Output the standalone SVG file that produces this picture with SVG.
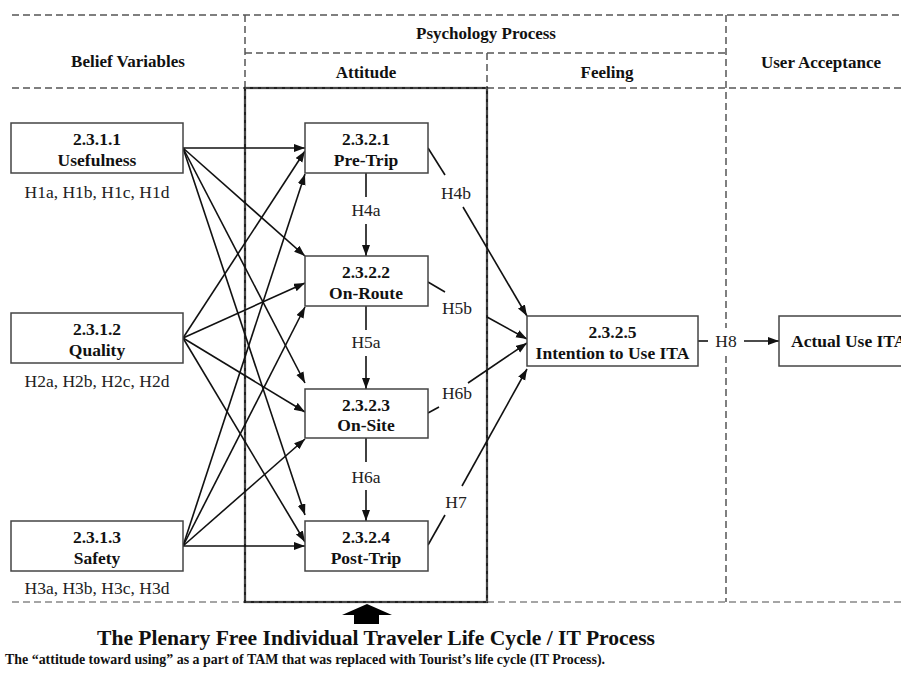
<svg xmlns="http://www.w3.org/2000/svg" width="901" height="676" viewBox="0 0 901 676">
<style>
.dash{stroke:#555;stroke-width:1.5;stroke-dasharray:7 4;fill:none}
.dashl{stroke:#888;stroke-width:1.5;stroke-dasharray:7 4;fill:none}
.box{fill:#fff;stroke:#444;stroke-width:1.5}
.hd{font-family:"Liberation Serif",serif;font-weight:bold;font-size:17px;fill:#111;text-anchor:middle}
.bt{font-family:"Liberation Serif",serif;font-weight:bold;font-size:17.5px;fill:#111;text-anchor:middle}
.lb{font-family:"Liberation Serif",serif;font-size:17.5px;fill:#222;text-anchor:middle}
.ln{stroke:#111;stroke-width:1.6;fill:none}
.ar{stroke:#111;stroke-width:1.6;fill:none;marker-end:url(#ah)}
</style>
<defs>
<marker id="ah" markerUnits="userSpaceOnUse" markerWidth="12" markerHeight="10" refX="11" refY="4" orient="auto">
<path d="M0,0 L11,4 L0,8 Z" fill="#111"/>
</marker>
</defs>
<rect width="901" height="676" fill="#fff"/>
<g id="grid">
<line class="dash" x1="12" y1="15" x2="901" y2="15"/>
<line class="dash" x1="245" y1="53" x2="726" y2="53"/>
<line class="dash" x1="12" y1="88" x2="245" y2="88"/>
<line class="dash" x1="487" y1="88" x2="901" y2="88"/>
<line class="dash" x1="245" y1="15" x2="245" y2="88"/>
<line class="dash" x1="487" y1="53" x2="487" y2="88"/>
<line class="dash" x1="726" y1="15" x2="726" y2="602"/>
<line class="dashl" x1="12" y1="602" x2="245" y2="602"/>
<line class="dashl" x1="487" y1="602" x2="901" y2="602"/>
<rect x="245" y="88" width="242" height="514" fill="none" stroke="#222" stroke-width="2.2"/>
<rect x="245" y="88" width="242" height="514" fill="none" stroke="#666" stroke-width="1" stroke-dasharray="5 3"/>
</g>
<g id="headers">
<text class="hd" x="128" y="67">Belief Variables</text>
<text class="hd" x="486" y="39">Psychology Process</text>
<text class="hd" x="366" y="78">Attitude</text>
<text class="hd" x="607" y="78">Feeling</text>
<text class="hd" x="821" y="68">User Acceptance</text>
</g>
<g id="connectors">
<line class="ar" x1="183" y1="148" x2="305" y2="148"/>
<line class="ar" x1="183" y1="148" x2="305" y2="256"/>
<line class="ar" x1="183" y1="148" x2="305" y2="383"/>
<line class="ar" x1="183" y1="148" x2="305" y2="515"/>
<line class="ar" x1="183" y1="338" x2="305" y2="151"/>
<line class="ar" x1="183" y1="338" x2="305" y2="283"/>
<line class="ar" x1="183" y1="338" x2="305" y2="412"/>
<line class="ar" x1="183" y1="338" x2="305" y2="542"/>
<line class="ar" x1="183" y1="546" x2="305" y2="174"/>
<line class="ar" x1="183" y1="546" x2="305" y2="307"/>
<line class="ar" x1="183" y1="546" x2="305" y2="439"/>
<line class="ar" x1="183" y1="546" x2="305" y2="546"/>
<line class="ln" x1="366" y1="173" x2="366" y2="197"/>
<line class="ar" x1="366" y1="224" x2="366" y2="256"/>
<line class="ln" x1="366" y1="306" x2="366" y2="330"/>
<line class="ar" x1="366" y1="356" x2="366" y2="389"/>
<line class="ln" x1="366" y1="438" x2="366" y2="462"/>
<line class="ar" x1="366" y1="490" x2="366" y2="521"/>
<line class="ln" x1="428" y1="148" x2="445" y2="175"/>
<line class="ar" x1="463" y1="207" x2="527" y2="316"/>
<line class="ln" x1="428" y1="282" x2="445" y2="292"/>
<line class="ar" x1="487" y1="317" x2="527" y2="339"/>
<line class="ln" x1="428" y1="413" x2="439" y2="407"/>
<line class="ar" x1="468" y1="383" x2="527" y2="343"/>
<line class="ln" x1="428" y1="545" x2="445" y2="515"/>
<line class="ar" x1="462" y1="486" x2="527" y2="369"/>
<line class="ln" x1="698" y1="341" x2="708" y2="341"/>
<line class="ar" x1="744" y1="341" x2="779" y2="341"/>
</g>
<g id="labels">
<text class="lb" x="366" y="216">H4a</text>
<text class="lb" x="366" y="348">H5a</text>
<text class="lb" x="366" y="483">H6a</text>
<text class="lb" x="456" y="199">H4b</text>
<text class="lb" x="457" y="314">H5b</text>
<text class="lb" x="457" y="399">H6b</text>
<text class="lb" x="456" y="508">H7</text>
<rect x="710" y="328" width="32" height="26" fill="#fff"/>
<text class="lb" x="726" y="347">H8</text>
</g>
<g id="usefulness">
<rect class="box" x="11" y="123" width="172" height="50"/>
<text class="bt" x="97" y="145">2.3.1.1</text>
<text class="bt" x="97" y="166">Usefulness</text>
<text class="lb" x="97" y="198">H1a, H1b, H1c, H1d</text>
</g>
<g id="quality">
<rect class="box" x="11" y="313" width="172" height="50"/>
<text class="bt" x="97" y="335">2.3.1.2</text>
<text class="bt" x="97" y="356">Quality</text>
<text class="lb" x="97" y="387">H2a, H2b, H2c, H2d</text>
</g>
<g id="safety">
<rect class="box" x="11" y="521" width="172" height="50"/>
<text class="bt" x="97" y="543">2.3.1.3</text>
<text class="bt" x="97" y="564">Safety</text>
<text class="lb" x="97" y="594">H3a, H3b, H3c, H3d</text>
</g>
<g id="pretrip">
<rect class="box" x="305" y="123" width="123" height="50"/>
<text class="bt" x="366" y="145">2.3.2.1</text>
<text class="bt" x="366" y="166">Pre-Trip</text>
</g>
<g id="onroute">
<rect class="box" x="305" y="256" width="123" height="50"/>
<text class="bt" x="366" y="278">2.3.2.2</text>
<text class="bt" x="366" y="299">On-Route</text>
</g>
<g id="onsite">
<rect class="box" x="305" y="389" width="123" height="49"/>
<text class="bt" x="366" y="411">2.3.2.3</text>
<text class="bt" x="366" y="431">On-Site</text>
</g>
<g id="posttrip">
<rect class="box" x="305" y="521" width="123" height="50"/>
<text class="bt" x="366" y="543">2.3.2.4</text>
<text class="bt" x="366" y="564">Post-Trip</text>
</g>
<g id="intention">
<rect class="box" x="527" y="316" width="171" height="50"/>
<text class="bt" x="612.5" y="338">2.3.2.5</text>
<text class="bt" x="612.5" y="359">Intention to Use ITA</text>
</g>
<g id="actualuse">
<rect class="box" x="779" y="316" width="140" height="50"/>
<text class="bt" x="791" y="347" style="text-anchor:start">Actual Use ITA</text>
</g>
<g id="footer">
<polygon points="367,604 392,615 379,615 379,624 354,624 354,615 342,615" fill="#000"/>
<text x="97" y="645" font-family="Liberation Serif,serif" font-weight="bold" font-size="20" fill="#111" textLength="558" lengthAdjust="spacingAndGlyphs">The Plenary Free Individual Traveler Life Cycle / IT Process</text>
<text x="5" y="664" font-family="Liberation Serif,serif" font-weight="bold" font-size="14.5" fill="#111" textLength="600" lengthAdjust="spacingAndGlyphs">The “attitude toward using” as a part of TAM that was replaced with Tourist’s life cycle (IT Process).</text>
</g>
</svg>
